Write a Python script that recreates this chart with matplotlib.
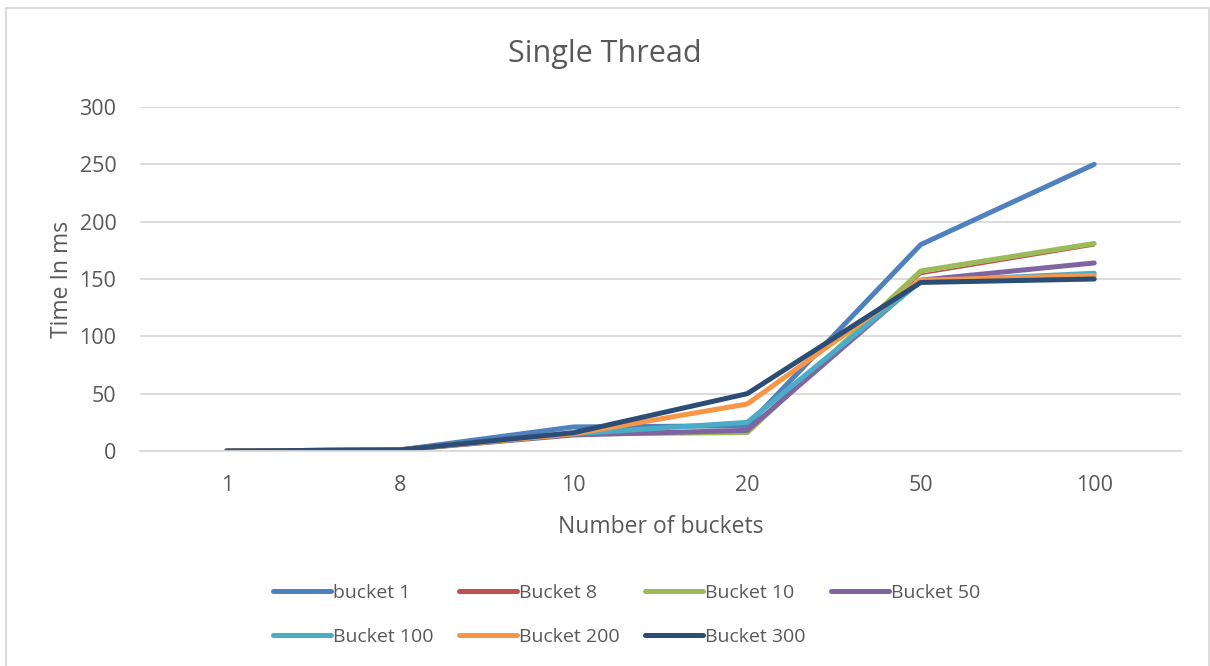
import matplotlib
matplotlib.use("Agg")
import matplotlib.pyplot as plt
from matplotlib.patches import Rectangle

# bucket counts on the x axis, timings in ms for each series
categories = ["1", "8", "10", "20", "50", "100"]
series_names = ["bucket 1", "Bucket 8", "Bucket 10", "Bucket 50",
                "Bucket 100", "Bucket 200", "Bucket 300"]
bucket_1 = [0, 1, 21, 22, 180, 250]
bucket_8 = [0, 1, 15, 17, 154, 179]
bucket_10 = [0, 1, 15, 16, 157, 181]
bucket_50 = [0, 1, 14, 18, 149, 164]
bucket_100 = [0, 1, 15, 25, 148, 155]
bucket_200 = [0, 1, 15, 41, 149, 153]
bucket_300 = [0, 1, 16, 50, 147, 150]

colors = ["#4F81BD", "#C0504D", "#9BBB59", "#8064A2",
          "#4BACC6", "#F79646", "#2C4D75"]
widths = [3.6, 1.2, 3.6, 3.6, 3.6, 3.6, 3.6]

text_col = "#595959"
grid_col = "#D9D9D9"
plt.rcParams["font.family"] = ["Open Sans", "DejaVu Sans"]

fig = plt.figure(figsize=(12.10, 6.66), dpi=100)
ax = fig.add_axes([140 / 1210, 1 - 451 / 666, 1041 / 1210, 344 / 666])

x = list(range(len(categories)))
all_series = [bucket_1, bucket_8, bucket_10, bucket_50,
              bucket_100, bucket_200, bucket_300]
handles = []
for name, vals, c, lw in zip(series_names, all_series, colors, widths):
    h, = ax.plot(x, vals, color=c, lw=lw, solid_capstyle="round",
                 solid_joinstyle="round", label=name)
    handles.append(h)

ax.set_xlim(-0.5, len(categories) - 0.5)
ax.set_ylim(0, 300)
ax.set_yticks(range(0, 301, 50))
ax.set_xticks(x)
ax.set_xticklabels(categories)
ax.grid(axis="y", color=grid_col, lw=1.3)
ax.set_axisbelow(True)
for s in ["top", "right", "left"]:
    ax.spines[s].set_visible(False)
ax.spines["bottom"].set_color(grid_col)
ax.spines["bottom"].set_linewidth(1.3)
ax.tick_params(length=0, labelsize=15.5, colors=text_col)
ax.tick_params(axis="x", pad=17)
ax.tick_params(axis="y", pad=17)

ax.set_xlabel("Number of buckets", fontsize=16.5, color=text_col, labelpad=14)
ax.set_ylabel("Time In ms", fontsize=16.5, color=text_col, labelpad=4)
fig.text(0.5, 1 - 54 / 666, "Single Thread", ha="center", va="center",
         fontsize=22, color=text_col)

# legend laid out row by row
order = [0, 4, 1, 5, 2, 6, 3]
leg = fig.legend([handles[i] for i in order], [series_names[i] for i in order],
                 ncol=4, loc="center", bbox_to_anchor=(0.518, 1 - 615 / 666),
                 frameon=False, fontsize=14, handlelength=3.0,
                 handletextpad=0.1, columnspacing=1.3, labelspacing=1.35)
for t in leg.get_texts():
    t.set_color(text_col)
for lh in leg.get_lines():
    lh.set_linewidth(3.6)

fig.patches.append(Rectangle((6 / 1210, -0.01), 1203 / 1210, 1 - 8 / 666 + 0.01,
                             transform=fig.transFigure, fill=False,
                             edgecolor=grid_col, lw=1.3))

fig.savefig("out.png", dpi=100)
